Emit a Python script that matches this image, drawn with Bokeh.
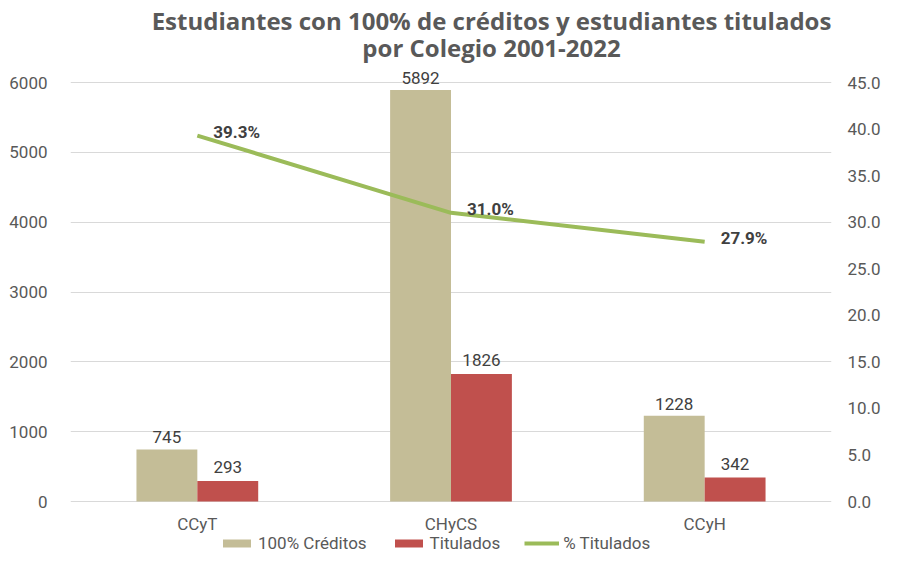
from bokeh.plotting import figure
from bokeh.models import (ColumnDataSource, Range1d, FactorRange, LinearAxis, FixedTicker,
                          NumeralTickFormatter, LabelSet, Label, Legend, LegendItem)
from bokeh.core.properties import value
from bokeh.transform import dodge
from bokeh.embed import file_html
from bokeh.resources import INLINE

colegios = ["CCyT", "CHyCS", "CCyH"]
creditos_100 = [745, 5892, 1228]
titulados = [293, 1826, 342]
pct_titulados = [39.3, 31.0, 27.9]
left_ticks = [0, 1000, 2000, 3000, 4000, 5000, 6000]
right_ticks = [0, 5, 10, 15, 20, 25, 30, 35, 40, 45]
title_1 = "Estudiantes con 100% de créditos y estudiantes titulados"
title_2 = "por Colegio 2001-2022"

TAN = "#C4BD97"
RED = "#C0504D"
GREEN = "#9BBB59"
GRID = "#D9D9D9"
TXT = "#595959"
DARK = "#404040"
FONT = "Roboto"
TFONT = "Open Sans"

W, H = 883, 553
FRAME_L, FRAME_R = 70, 43
Y0_PX = 501          # pixel row of value 0 (from figure top)
PX_PER_UNIT = 419 / 6000
Y_TOP = Y0_PX / PX_PER_UNIT
Y_BOT = -(H - Y0_PX) / PX_PER_UNIT
R_SCALE = 45 / 6000

src = ColumnDataSource(dict(
    colegio=colegios,
    cred=creditos_100,
    tit=titulados,
    pct=pct_titulados,
    cred_lbl=[str(v) for v in creditos_100],
    tit_lbl=[str(v) for v in titulados],
    pct_lbl=[f"{v:.1f}%" for v in pct_titulados],
    zero=[0] * len(colegios),
))

p = figure(x_range=FactorRange(factors=colegios, range_padding=0),
           y_range=Range1d(Y_BOT, Y_TOP),
           width=W, height=H, output_backend="svg", toolbar_location=None,
           min_border_left=FRAME_L, min_border_right=FRAME_R,
           min_border_top=0, min_border_bottom=0)
p.outline_line_color = None
p.extra_y_ranges = {"pct": Range1d(Y_BOT * R_SCALE, Y_TOP * R_SCALE)}

# title as two centred lines
ncat = len(colegios)
tx = ncat * (496 - FRAME_L) / (W - FRAME_L - FRAME_R)
for txt, row in ((title_1, 20), (title_2, 47)):
    p.add_layout(Label(x=tx, y=(Y0_PX - row) / PX_PER_UNIT, text=txt,
                       text_align="center", text_baseline="middle",
                       text_font=TFONT, text_font_size="24px",
                       text_font_style="bold", text_color=TXT))

r1 = p.vbar(x=dodge("colegio", -0.12, range=p.x_range), top="cred", bottom=0, width=0.24,
            source=src, fill_color=TAN, line_color=None)
r2 = p.vbar(x=dodge("colegio", 0.12, range=p.x_range), top="tit", bottom=0, width=0.24,
            source=src, fill_color=RED, line_color=None)
r3 = p.line(x="colegio", y="pct", source=src, y_range_name="pct",
            line_color=GREEN, line_width=4)

# data labels
p.add_layout(LabelSet(x=dodge("colegio", -0.12, range=p.x_range), y="cred", text="cred_lbl",
                      source=src, y_offset=6, text_align="center", text_baseline="bottom",
                      text_font=value(FONT), text_font_size="17px", text_color=DARK))
p.add_layout(LabelSet(x=dodge("colegio", 0.12, range=p.x_range), y="tit", text="tit_lbl",
                      source=src, y_offset=8, text_align="center", text_baseline="bottom",
                      text_font=value(FONT), text_font_size="17px", text_color=DARK))
p.add_layout(LabelSet(x="colegio", y="pct", y_range_name="pct", text="pct_lbl",
                      source=src, x_offset=16, y_offset=4, text_align="left",
                      text_baseline="middle", text_font=value(FONT), text_font_size="17px",
                      text_font_style="bold", text_color=DARK))

# category labels under the baseline
p.add_layout(LabelSet(x="colegio", y="zero", text="colegio", source=src,
                      y_offset=-12, text_align="center", text_baseline="top",
                      text_font=value(FONT), text_font_size="17px", text_color=TXT))

# axes
p.xaxis.visible = False
p.yaxis.ticker = FixedTicker(ticks=left_ticks)
p.yaxis.axis_line_color = None
p.yaxis.major_tick_line_color = None
p.yaxis.minor_tick_line_color = None
p.yaxis.major_label_standoff = 17
p.yaxis.major_label_text_font = FONT
p.yaxis.major_label_text_font_size = "17px"
p.yaxis.major_label_text_color = TXT

ax2 = LinearAxis(y_range_name="pct", ticker=FixedTicker(ticks=right_ticks),
                 formatter=NumeralTickFormatter(format="0.0"))
ax2.axis_line_color = None
ax2.major_tick_line_color = None
ax2.minor_tick_line_color = None
ax2.major_label_standoff = 10
ax2.major_label_text_font = FONT
ax2.major_label_text_font_size = "17px"
ax2.major_label_text_color = TXT
p.add_layout(ax2, "right")

p.xgrid.grid_line_color = None
p.ygrid.grid_line_color = GRID
p.ygrid.ticker = FixedTicker(ticks=left_ticks)

legend = Legend(items=[LegendItem(label="100% Créditos", renderers=[r1]),
                       LegendItem(label="Titulados", renderers=[r2]),
                       LegendItem(label="% Titulados", renderers=[r3])],
                orientation="horizontal", location=(149, 0),
                border_line_color=None, background_fill_alpha=0,
                glyph_width=35, glyph_height=10, label_standoff=4, spacing=24,
                padding=0, margin=0,
                label_text_font=FONT, label_text_font_size="17px", label_text_color=TXT)
p.add_layout(legend)

open("out.html", "w").write(file_html(p, INLINE))
